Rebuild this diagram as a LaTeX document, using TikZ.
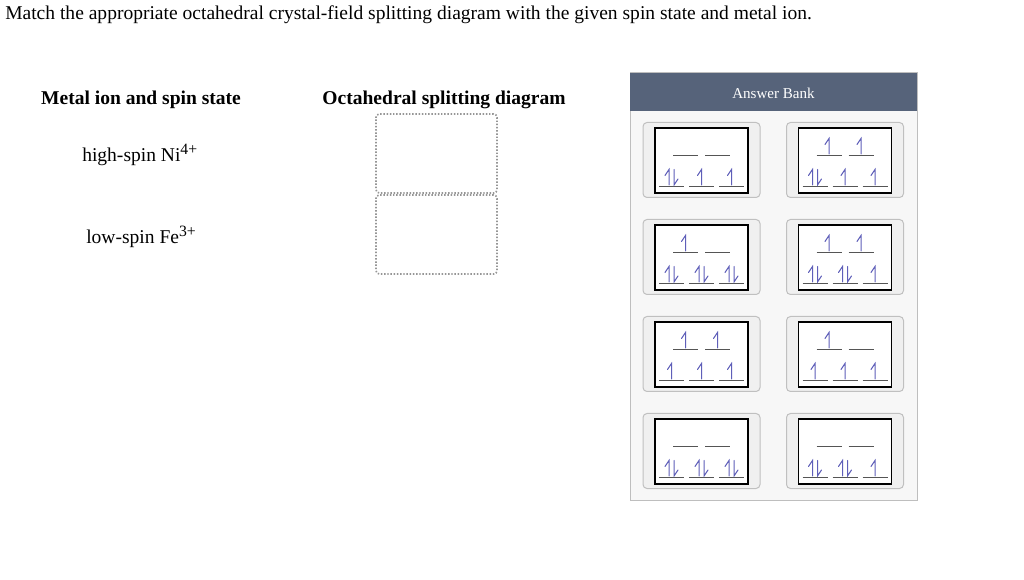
\documentclass[tikz,border=0pt]{standalone}
\usepackage{fontspec}
\setmainfont{Liberation Serif}
\definecolor{hdr}{RGB}{86,99,122}
\definecolor{spin}{RGB}{95,95,185}
\definecolor{lvl}{RGB}{85,85,85}
\definecolor{panelbg}{RGB}{247,247,247}
\definecolor{panelbd}{RGB}{190,190,190}
\definecolor{cardbg}{RGB}{240,240,240}
\definecolor{cardbd}{RGB}{192,192,192}
\definecolor{dotc}{RGB}{150,150,150}
\newcommand\mysup[1]{\raisebox{5.6pt}{\fontsize{11.8pt}{13pt}\selectfont #1}}
\tikzset{
  card/.style={draw=cardbd, fill=cardbg, rounded corners=3pt, line width=0.75pt, minimum width=87.75pt, minimum height=56.25pt, inner sep=0pt},
  innerbox/.style={draw=black, fill=white, line width=1.1pt, minimum width=69.75pt, minimum height=48.75pt, inner sep=0pt},
  level/.style={draw=lvl, line width=0.75pt},
  harp/.style={draw=spin, line width=0.75pt, line cap=round},
  dropbox/.style={draw=dotc, line width=1.2pt, dash pattern=on 1.1pt off 1.3pt, rounded corners=2.5pt, minimum width=90.75pt, minimum height=59.25pt, inner sep=0pt},
  txt/.style={inner sep=0pt, font=\fontsize{14.65pt}{17pt}\selectfont},
}
% electron drawing: x, y (level), code 0/1/2
\newcommand\myup[2]{\draw[harp] ({#1},{#2-2}) -- ({#1},{#2-17.5}) -- ({#1-4},{#2-11.5});}
\newcommand\mydown[2]{\draw[harp] ({#1},{#2-17.5}) -- ({#1},{#2-2}) -- ({#1+4},{#2-8});}
\newcommand\myelec[3]{\ifcase#3\or\myup{#1}{#2}\or\myup{#1-2.5}{#2}\mydown{#1+2.5}{#2}\fi}
\newcommand\mycard[8]{%
  \node[card] (#1) at (#2,#3) {};
  \node[innerbox] (#1in) at (#2,{#3+0.5}) {};
  \foreach \dx in {-16,16} \draw[level] ({#2+\dx-12.5},{#3-4}) -- ({#2+\dx+12.5},{#3-4});
  \foreach \dx in {-30,0,30} \draw[level] ({#2+\dx-12.5},{#3+27}) -- ({#2+\dx+12.5},{#3+27});
  \myelec{#2-16}{#3-4}{#4}\myelec{#2+16}{#3-4}{#5}%
  \myelec{#2-30}{#3+27}{#6}\myelec{#2}{#3+27}{#7}\myelec{#2+30}{#3+27}{#8}%
}
\begin{document}
\begin{tikzpicture}[x=0.75pt,y=-0.75pt]
\useasboundingbox (0,0) rectangle (1024,580);
\fill[white] (0,0) rectangle (1024,580);
% title
\node[txt, anchor=base west] (title) at (5,20) {Match the appropriate octahedral crystal-field splitting diagram with the given spin state and metal ion.};
% headers
\node[txt, anchor=base, font=\fontsize{14.65pt}{17pt}\selectfont\bfseries] (h1) at (141,105) {Metal ion and spin state};
\node[txt, anchor=base, font=\fontsize{14.65pt}{17pt}\selectfont\bfseries] (h2) at (444,105) {Octahedral splitting diagram};
\node[txt, anchor=base west] (ni) at (82,162) {high-spin Ni\mysup{4+}};
\node[txt, anchor=base west] (fe) at (86,243.5) {low-spin Fe\mysup{3+}};
% drop boxes
\node[dropbox] (d1) at (436.5,153.5) {};
\node[dropbox] (d2) at (436.5,234.5) {};
% answer bank panel
\node[draw=panelbd, fill=panelbg, line width=0.75pt, minimum width=215.25pt, minimum height=320.25pt, inner sep=0pt] (panel) at (773.5,286.5) {};
\node[fill=hdr, minimum width=215.25pt, minimum height=28.5pt, inner sep=0pt] (hdrbar) at (773.5,92) {};
\node[inner sep=0pt, text=white, font=\fontsize{11.3pt}{13pt}\selectfont] (ab) at (773.5,93) {Answer Bank};
% cards
\mycard{c11}{701.5}{160}{0}{0}{2}{1}{1}
\mycard{c12}{845}{160}{1}{1}{2}{1}{1}
\mycard{c21}{701.5}{257}{1}{0}{2}{2}{2}
\mycard{c22}{845}{257}{1}{1}{2}{2}{1}
\mycard{c31}{701.5}{354}{1}{1}{1}{1}{1}
\mycard{c32}{845}{354}{1}{0}{1}{1}{1}
\mycard{c41}{701.5}{451}{0}{0}{2}{2}{2}
\mycard{c42}{845}{451}{0}{0}{2}{2}{1}
\end{tikzpicture}
\end{document}
